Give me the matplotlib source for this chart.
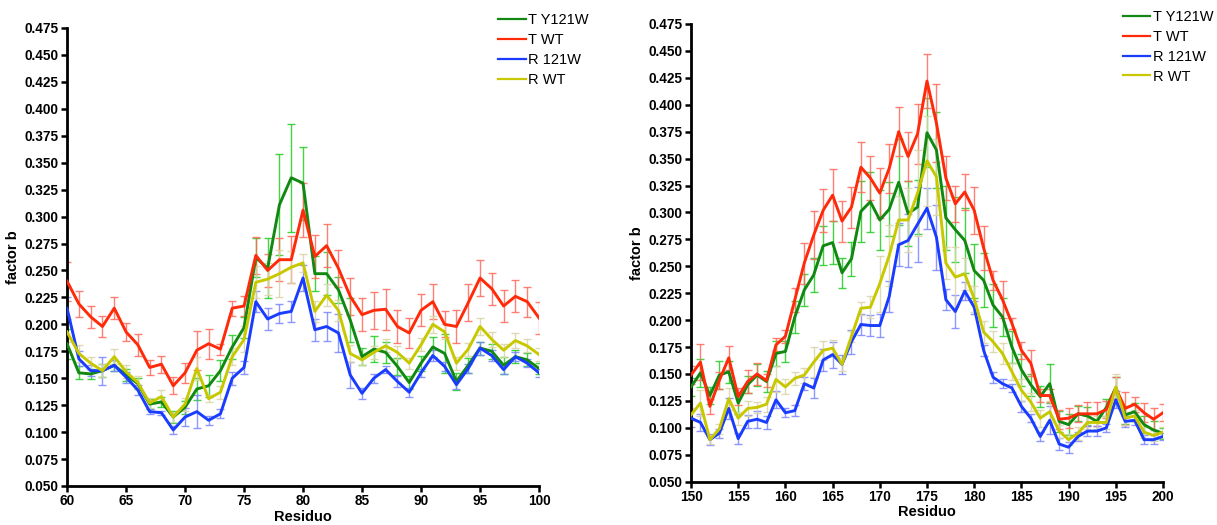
import matplotlib
matplotlib.use('Agg')
import matplotlib.pyplot as plt
from matplotlib.ticker import FormatStrFormatter, MultipleLocator
import numpy as np

plt.rcParams['font.family'] = ['Liberation Sans', 'DejaVu Sans']

labels = ['T Y121W', 'T WT', 'R 121W', 'R WT']
line_colors = ['#118811', '#ff2a0a', '#1a3cff', '#c8c800']
err_colors = ['#22cc22', '#ff6a5a', '#7a86ff', '#d9d4a6']

# left panel, residues 60-100
res_a = np.arange(60, 101)
ty_a = [0.182, 0.155, 0.154, 0.157, 0.162, 0.153, 0.145, 0.126, 0.128, 0.114,
        0.123, 0.140, 0.143, 0.157, 0.179, 0.197, 0.262, 0.252, 0.311, 0.336,
        0.331, 0.247, 0.247, 0.232, 0.204, 0.170, 0.177, 0.174, 0.161, 0.146,
        0.164, 0.179, 0.173, 0.147, 0.162, 0.178, 0.175, 0.162, 0.170, 0.167, 0.159]
tw_a = [0.240, 0.219, 0.207, 0.198, 0.215, 0.193, 0.181, 0.160, 0.163, 0.143,
        0.155, 0.176, 0.182, 0.177, 0.215, 0.217, 0.264, 0.250, 0.260, 0.260,
        0.306, 0.263, 0.273, 0.252, 0.226, 0.209, 0.213, 0.214, 0.198, 0.192,
        0.213, 0.221, 0.200, 0.198, 0.220, 0.243, 0.233, 0.217, 0.226, 0.221, 0.206]
rm_a = [0.215, 0.168, 0.157, 0.157, 0.162, 0.151, 0.139, 0.119, 0.118, 0.102,
        0.114, 0.119, 0.111, 0.117, 0.150, 0.160, 0.221, 0.205, 0.210, 0.212,
        0.243, 0.195, 0.198, 0.192, 0.153, 0.136, 0.150, 0.158, 0.147, 0.137,
        0.155, 0.171, 0.161, 0.144, 0.159, 0.178, 0.171, 0.158, 0.170, 0.164, 0.155]
rw_a = [0.193, 0.173, 0.164, 0.157, 0.170, 0.156, 0.146, 0.127, 0.133, 0.114,
        0.126, 0.159, 0.131, 0.137, 0.170, 0.186, 0.239, 0.242, 0.247, 0.253,
        0.257, 0.212, 0.227, 0.213, 0.173, 0.167, 0.174, 0.180, 0.174, 0.164,
        0.181, 0.200, 0.193, 0.164, 0.177, 0.198, 0.186, 0.176, 0.185, 0.180, 0.172]
ty_a_err = [0.014, 0.006, 0.005, 0.006, 0.005, 0.006, 0.005, 0.005, 0.005, 0.006,
            0.006, 0.010, 0.010, 0.010, 0.011, 0.010, 0.018, 0.028, 0.047, 0.050,
            0.034, 0.016, 0.020, 0.012, 0.020, 0.008, 0.012, 0.010, 0.008, 0.006,
            0.007, 0.009, 0.018, 0.008, 0.007, 0.006, 0.007, 0.008, 0.006, 0.006, 0.005]
tw_a_err = [0.018, 0.012, 0.010, 0.010, 0.010, 0.008, 0.010, 0.007, 0.008, 0.008,
            0.009, 0.018, 0.014, 0.005, 0.007, 0.009, 0.017, 0.015, 0.020, 0.022,
            0.025, 0.020, 0.020, 0.017, 0.017, 0.015, 0.017, 0.019, 0.015, 0.014,
            0.015, 0.016, 0.012, 0.015, 0.017, 0.017, 0.015, 0.015, 0.015, 0.014, 0.015]
rm_a_err = [0.010, 0.007, 0.005, 0.013, 0.005, 0.005, 0.005, 0.002, 0.002, 0.004,
            0.008, 0.015, 0.004, 0.004, 0.006, 0.006, 0.010, 0.010, 0.009, 0.010,
            0.012, 0.010, 0.013, 0.018, 0.012, 0.005, 0.004, 0.003, 0.005, 0.004,
            0.004, 0.005, 0.004, 0.004, 0.004, 0.006, 0.005, 0.004, 0.004, 0.004, 0.004]
rw_a_err = [0.009, 0.008, 0.006, 0.006, 0.007, 0.006, 0.006, 0.005, 0.006, 0.005,
            0.006, 0.011, 0.003, 0.006, 0.008, 0.012, 0.015, 0.015, 0.022, 0.015,
            0.008, 0.010, 0.010, 0.010, 0.008, 0.005, 0.006, 0.006, 0.006, 0.005,
            0.006, 0.008, 0.007, 0.006, 0.006, 0.008, 0.007, 0.006, 0.007, 0.006, 0.006]

# right panel, residues 150-200
res_b = np.arange(150, 201)
ty_b = [0.138, 0.151, 0.130, 0.149, 0.152, 0.123, 0.140, 0.149, 0.143, 0.169,
        0.171, 0.203, 0.228, 0.242, 0.269, 0.272, 0.244, 0.257, 0.301, 0.310,
        0.293, 0.303, 0.328, 0.299, 0.305, 0.374, 0.358, 0.295, 0.284, 0.274,
        0.246, 0.237, 0.214, 0.203, 0.175, 0.154, 0.140, 0.129, 0.141, 0.106,
        0.103, 0.113, 0.111, 0.106, 0.119, 0.137, 0.112, 0.115, 0.103, 0.098, 0.095]
tw_b = [0.149, 0.161, 0.120, 0.144, 0.165, 0.129, 0.143, 0.150, 0.144, 0.177,
        0.185, 0.219, 0.253, 0.279, 0.302, 0.316, 0.292, 0.305, 0.342, 0.332,
        0.318, 0.341, 0.375, 0.352, 0.373, 0.422, 0.383, 0.332, 0.308, 0.319,
        0.302, 0.267, 0.237, 0.219, 0.197, 0.172, 0.160, 0.130, 0.130, 0.108,
        0.109, 0.113, 0.113, 0.113, 0.117, 0.137, 0.118, 0.122, 0.114, 0.108, 0.114]
rm_b = [0.109, 0.105, 0.089, 0.095, 0.118, 0.090, 0.106, 0.108, 0.105, 0.126,
        0.114, 0.116, 0.141, 0.137, 0.163, 0.168, 0.159, 0.180, 0.196, 0.195,
        0.195, 0.222, 0.270, 0.274, 0.289, 0.304, 0.277, 0.219, 0.208, 0.227,
        0.212, 0.172, 0.147, 0.141, 0.137, 0.120, 0.109, 0.092, 0.107, 0.085,
        0.082, 0.092, 0.097, 0.097, 0.100, 0.126, 0.106, 0.107, 0.089, 0.089, 0.092]
rw_b = [0.112, 0.123, 0.089, 0.099, 0.127, 0.109, 0.118, 0.119, 0.122, 0.145,
        0.138, 0.146, 0.149, 0.161, 0.172, 0.174, 0.159, 0.185, 0.211, 0.212,
        0.234, 0.260, 0.293, 0.293, 0.318, 0.348, 0.333, 0.253, 0.240, 0.243,
        0.220, 0.189, 0.180, 0.169, 0.152, 0.135, 0.124, 0.109, 0.115, 0.097,
        0.089, 0.095, 0.105, 0.105, 0.105, 0.138, 0.109, 0.111, 0.096, 0.093, 0.096]
ty_b_err = [0.008, 0.013, 0.008, 0.013, 0.010, 0.010, 0.008, 0.010, 0.010, 0.012,
            0.010, 0.015, 0.015, 0.016, 0.018, 0.020, 0.014, 0.016, 0.028, 0.028,
            0.028, 0.025, 0.040, 0.030, 0.025, 0.032, 0.035, 0.030, 0.030, 0.030,
            0.025, 0.025, 0.020, 0.018, 0.015, 0.015, 0.010, 0.010, 0.018, 0.010,
            0.010, 0.007, 0.008, 0.008, 0.008, 0.010, 0.008, 0.008, 0.008, 0.008, 0.005]
tw_b_err = [0.008, 0.017, 0.007, 0.008, 0.011, 0.008, 0.011, 0.010, 0.006, 0.006,
            0.006, 0.011, 0.019, 0.022, 0.020, 0.024, 0.019, 0.019, 0.023, 0.020,
            0.023, 0.023, 0.023, 0.023, 0.028, 0.025, 0.036, 0.020, 0.017, 0.017,
            0.022, 0.020, 0.009, 0.017, 0.005, 0.008, 0.012, 0.006, 0.006, 0.009,
            0.009, 0.008, 0.011, 0.011, 0.008, 0.010, 0.015, 0.007, 0.009, 0.010, 0.008]
rm_b_err = [0.008, 0.008, 0.005, 0.004, 0.010, 0.005, 0.006, 0.008, 0.006, 0.008,
            0.004, 0.005, 0.006, 0.009, 0.010, 0.012, 0.009, 0.011, 0.010, 0.010,
            0.011, 0.014, 0.020, 0.025, 0.035, 0.019, 0.030, 0.010, 0.015, 0.008,
            0.006, 0.005, 0.005, 0.004, 0.004, 0.005, 0.004, 0.004, 0.013, 0.006,
            0.005, 0.004, 0.005, 0.005, 0.004, 0.008, 0.005, 0.004, 0.004, 0.004, 0.003]
rw_b_err = [0.006, 0.012, 0.004, 0.005, 0.010, 0.006, 0.007, 0.005, 0.007, 0.012,
            0.007, 0.006, 0.007, 0.014, 0.009, 0.008, 0.006, 0.005, 0.006, 0.010,
            0.026, 0.028, 0.022, 0.030, 0.040, 0.042, 0.035, 0.015, 0.028, 0.015,
            0.012, 0.010, 0.010, 0.010, 0.008, 0.010, 0.008, 0.008, 0.010, 0.006,
            0.005, 0.006, 0.006, 0.006, 0.006, 0.012, 0.006, 0.006, 0.005, 0.005, 0.005]


def draw_panel(ax, x, series, errors, xmin, xmax):
    # error bars first, lines on top
    for y, e, c in zip(series, errors, err_colors):
        ax.errorbar(x, y, yerr=e, fmt='none', ecolor=c, elinewidth=1.0,
                    capsize=3, capthick=1.0, alpha=0.85, zorder=2)
    for y, c, lab in zip(series, line_colors, labels):
        ax.plot(x, y, color=c, lw=2.1, label=lab, zorder=3)

    ax.set_xlim(xmin, xmax)
    ax.set_ylim(0.05, 0.475)
    ax.xaxis.set_major_locator(MultipleLocator(5))
    ax.yaxis.set_major_locator(MultipleLocator(0.025))
    ax.yaxis.set_major_formatter(FormatStrFormatter('%.3f'))

    for s in ['top', 'right']:
        ax.spines[s].set_visible(False)
    for s in ['left', 'bottom']:
        ax.spines[s].set_linewidth(2.0)
    ax.tick_params(width=1.8, length=4, labelsize=9.8, pad=2)
    for t in ax.get_xticklabels() + ax.get_yticklabels():
        t.set_fontweight('bold')

    ax.set_xlabel('Residuo', fontsize=10.5, fontweight='bold', labelpad=1)
    ax.set_ylabel('factor b', fontsize=10.5, fontweight='bold', labelpad=3)


def main():
    fig = plt.figure(figsize=(12.17, 5.25), dpi=100)
    ax1 = fig.add_axes([0.0551, 0.0743, 0.3878, 0.8724])
    ax2 = fig.add_axes([0.5678, 0.0825, 0.3878, 0.8718])

    draw_panel(ax1, res_a, [ty_a, tw_a, rm_a, rw_a],
               [ty_a_err, tw_a_err, rm_a_err, rw_a_err], 60, 100)
    draw_panel(ax2, res_b, [ty_b, tw_b, rm_b, rw_b],
               [ty_b_err, tw_b_err, rm_b_err, rw_b_err], 150, 200)

    for ax, anchor in [(ax1, (0.400, 0.997)), (ax2, (0.913, 1.003))]:
        leg = ax.legend(loc='upper left', bbox_to_anchor=anchor,
                        bbox_transform=fig.transFigure, frameon=False, fontsize=10.5,
                        handlelength=1.9, handletextpad=0.15, labelspacing=0.4,
                        borderpad=0.3)
        for h in leg.get_lines():
            h.set_linewidth(1.6)

    fig.savefig('out.png', dpi=100)


if __name__ == '__main__':
    main()
